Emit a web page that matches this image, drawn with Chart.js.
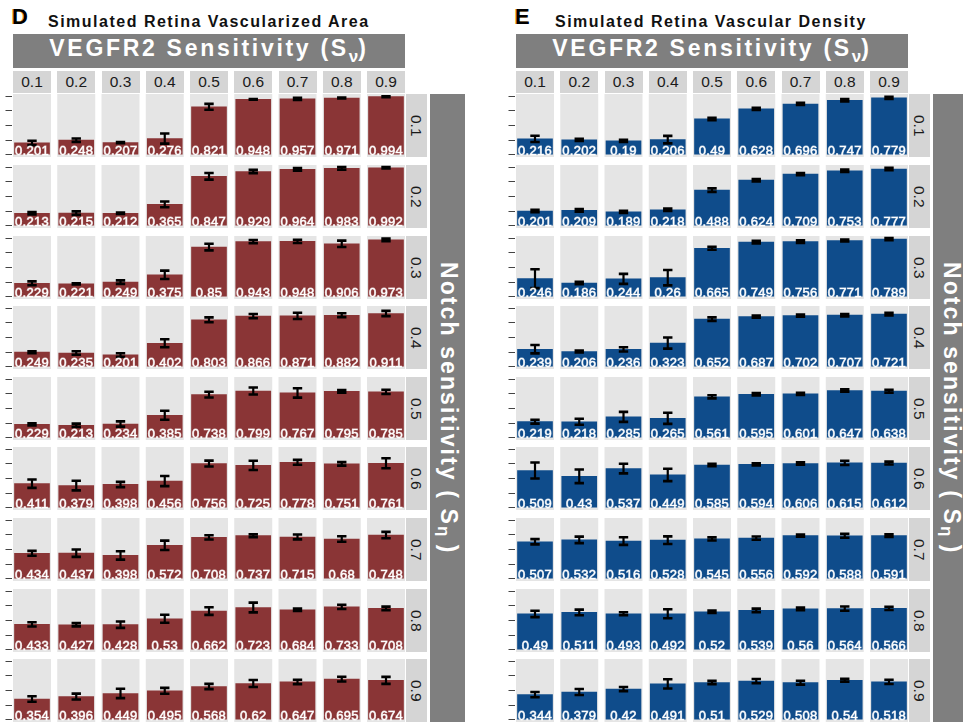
<!DOCTYPE html>
<html>
<head>
<meta charset="utf-8">
<title>Simulated retina vascularization</title>
<script src="https://cdn.jsdelivr.net/npm/chart.js@4.4.1/dist/chart.umd.min.js"></script>
<style>
  html, body { margin: 0; padding: 0; background: #fff; }
  #page { position: relative; width: 963px; height: 725px; overflow: hidden;
          font-family: "Liberation Sans", Arial, Helvetica, sans-serif; }
  .abs { position: absolute; }
  .tag { font-weight: bold; font-size: 22px; line-height: 22px; color: #000;
         text-shadow: -1px 0 0 #e89a2c; }
  .title { font-weight: bold; font-size: 16px; line-height: 16px; color: #111;
           white-space: nowrap; letter-spacing: 1.5px; }
  .bigstrip { background: #7f7f7f; color: #fff; font-weight: bold; font-size: 23px;
              letter-spacing: 2.7px; white-space: nowrap; display: flex;
              align-items: center; justify-content: center; }
  .bigstrip sub { font-size: 17px; vertical-align: -6px; letter-spacing: 0; }
  .strip { background: #d5d5d5; color: #1a1a1a; font-size: 15.5px; white-space: nowrap;
           display: flex; align-items: center; justify-content: center; }
  .vert { writing-mode: vertical-rl; }
  .cell canvas { display: block; }
</style>
</head>
<body>
<div id="page"></div>
<script>
// Factor levels
const vegfrLevels = ['0.1', '0.2', '0.3', '0.4', '0.5', '0.6', '0.7', '0.8', '0.9'];
const notchLevels = ['0.1', '0.2', '0.3', '0.4', '0.5', '0.6', '0.7', '0.8', '0.9'];

// Vascularized area: mean per (notch row, VEGFR2 column)
const areaMean = [
  [0.201, 0.248, 0.207, 0.276, 0.821, 0.948, 0.957, 0.971, 0.994],
  [0.213, 0.215, 0.212, 0.365, 0.847, 0.929, 0.964, 0.983, 0.992],
  [0.229, 0.221, 0.249, 0.375, 0.85,  0.943, 0.948, 0.906, 0.973],
  [0.249, 0.235, 0.201, 0.402, 0.803, 0.866, 0.871, 0.882, 0.911],
  [0.229, 0.213, 0.234, 0.385, 0.738, 0.799, 0.767, 0.795, 0.785],
  [0.411, 0.379, 0.398, 0.456, 0.756, 0.725, 0.778, 0.751, 0.761],
  [0.434, 0.437, 0.398, 0.572, 0.708, 0.737, 0.715, 0.68,  0.748],
  [0.433, 0.427, 0.428, 0.53,  0.662, 0.723, 0.684, 0.733, 0.708],
  [0.354, 0.396, 0.449, 0.495, 0.568, 0.62,  0.647, 0.695, 0.674]
];
// Vascularized area: standard deviation
const areaSD = [
  [0.037, 0.028, 0.010, 0.086, 0.050, 0.007, 0.019, 0.007, 0.007],
  [0.019, 0.030, 0.013, 0.050, 0.057, 0.028, 0.022, 0.024, 0.013],
  [0.033, 0.010, 0.030, 0.072, 0.057, 0.028, 0.028, 0.054, 0.022],
  [0.016, 0.030, 0.030, 0.068, 0.042, 0.037, 0.054, 0.033, 0.045],
  [0.019, 0.028, 0.045, 0.077, 0.050, 0.060, 0.080, 0.022, 0.037],
  [0.072, 0.083, 0.045, 0.086, 0.050, 0.080, 0.042, 0.030, 0.086],
  [0.042, 0.063, 0.072, 0.080, 0.037, 0.024, 0.042, 0.048, 0.054],
  [0.037, 0.028, 0.054, 0.068, 0.065, 0.083, 0.022, 0.037, 0.030],
  [0.048, 0.050, 0.080, 0.050, 0.045, 0.060, 0.037, 0.040, 0.060]
];
// Vascular density: mean
const densityMean = [
  [0.216, 0.202, 0.19,  0.206, 0.49,  0.628, 0.696, 0.747, 0.779],
  [0.201, 0.209, 0.189, 0.218, 0.488, 0.624, 0.709, 0.753, 0.777],
  [0.246, 0.186, 0.244, 0.26,  0.665, 0.749, 0.756, 0.771, 0.789],
  [0.239, 0.206, 0.236, 0.323, 0.652, 0.687, 0.702, 0.707, 0.721],
  [0.219, 0.218, 0.285, 0.265, 0.561, 0.595, 0.601, 0.647, 0.638],
  [0.509, 0.43,  0.537, 0.449, 0.585, 0.594, 0.606, 0.615, 0.612],
  [0.507, 0.532, 0.516, 0.528, 0.545, 0.556, 0.592, 0.588, 0.591],
  [0.49,  0.511, 0.493, 0.492, 0.52,  0.539, 0.56,  0.564, 0.566],
  [0.344, 0.379, 0.42,  0.491, 0.51,  0.529, 0.508, 0.54,  0.518]
];
// Vascular density: standard deviation
const densitySD = [
  [0.043, 0.015, 0.015, 0.052, 0.017, 0.015, 0.015, 0.017, 0.015],
  [0.017, 0.017, 0.015, 0.015, 0.024, 0.017, 0.015, 0.017, 0.017],
  [0.130, 0.017, 0.069, 0.106, 0.020, 0.017, 0.017, 0.013, 0.015],
  [0.057, 0.013, 0.029, 0.076, 0.024, 0.015, 0.015, 0.017, 0.017],
  [0.027, 0.041, 0.069, 0.076, 0.022, 0.017, 0.015, 0.017, 0.020],
  [0.110, 0.094, 0.066, 0.085, 0.017, 0.015, 0.015, 0.029, 0.020],
  [0.036, 0.045, 0.052, 0.052, 0.022, 0.022, 0.015, 0.027, 0.017],
  [0.043, 0.038, 0.020, 0.062, 0.017, 0.024, 0.017, 0.029, 0.022],
  [0.036, 0.041, 0.029, 0.064, 0.022, 0.029, 0.027, 0.020, 0.029]
];
// y-axis tick values for each panel
const areaTicks = [0, 0.25, 0.5, 0.75, 1];
const densityTicks = [0, 0.2, 0.4, 0.6, 0.8];

// Panel descriptions (layout and styling)
const panels = [
  { tag: 'D', title: 'Simulated Retina Vascularized Area', tagX: 12, titleX: 48, gridX: 13,
    mean: areaMean, sd: areaSD, ticks: areaTicks, yMin: -0.04, yMax: 1.04, color: '#8a3536' },
  { tag: 'E', title: 'Simulated Retina Vascular Density', tagX: 515, titleX: 555, gridX: 516,
    mean: densityMean, sd: densitySD, ticks: densityTicks, yMin: -0.033, yMax: 0.833, color: '#0f4c8b' }
];

// Facet geometry
const CELL_W = 38, PITCH_X = 44.25, CELL_H = 63;
const ROW_TOP0 = 94.2, PITCH_Y = 70.65;
const AXIS_W = 12, BAR_W = 35;
const COLSTRIP_TOP = 70.5, COLSTRIP_H = 22.5;
const HEAD_TOP = 34, HEAD_H = 34;

const page = document.getElementById('page');
function el(cls, css, html) {
  const d = document.createElement('div');
  d.className = 'abs ' + cls;
  Object.assign(d.style, css);
  if (html !== undefined) d.innerHTML = html;
  page.appendChild(d);
  return d;
}
const px = v => v + 'px';

// Cell background, error bars and value labels drawn on the chart canvas
const facetPlugin = {
  id: 'facet',
  beforeDatasetsDraw(chart, args, opts) {
    const { ctx, chartArea, scales } = chart;
    ctx.save();
    ctx.fillStyle = '#e5e5e5';
    opts.means.forEach((m, i) => {
      const cx = scales.x.getPixelForValue(i);
      ctx.fillRect(cx - CELL_W / 2, chartArea.top, CELL_W, chartArea.bottom - chartArea.top);
    });
    ctx.restore();
  },
  afterDatasetsDraw(chart, args, opts) {
    const { ctx, scales } = chart;
    const y = scales.y;
    ctx.save();
    ctx.strokeStyle = '#000';
    ctx.lineCap = 'butt';
    opts.means.forEach((m, i) => {
      const cx = scales.x.getPixelForValue(i);
      const s = opts.sds[i];
      const yHi = y.getPixelForValue(m + s), yLo = y.getPixelForValue(m - s);
      ctx.lineWidth = 2.2;
      ctx.beginPath(); ctx.moveTo(cx, yHi); ctx.lineTo(cx, yLo); ctx.stroke();
      ctx.lineWidth = 2.6;
      ctx.beginPath();
      ctx.moveTo(cx - 4.7, yHi); ctx.lineTo(cx + 4.7, yHi);
      ctx.moveTo(cx - 4.7, yLo); ctx.lineTo(cx + 4.7, yLo);
      ctx.stroke();
    });
    ctx.font = '13px "Liberation Sans", Arial, sans-serif';
    ctx.textAlign = 'center';
    ctx.textBaseline = 'alphabetic';
    if ('letterSpacing' in ctx) ctx.letterSpacing = '0.3px';
    ctx.fillStyle = '#fff';
    ctx.strokeStyle = 'rgba(255,255,255,0.7)';
    ctx.lineWidth = 0.8;
    const base = y.getPixelForValue(0) + 0.5;
    opts.means.forEach((m, i) => {
      const cx = scales.x.getPixelForValue(i);
      const label = String(m);
      ctx.fillText(label, cx, base);
      ctx.strokeText(label, cx, base);
    });
    ctx.restore();
  }
};

panels.forEach(p => {
  el('tag', { left: px(p.tagX), top: px(6) }, p.tag);
  el('title', { left: px(p.titleX), top: px(13.5) }, p.title);

  const gridW = PITCH_X * (vegfrLevels.length - 1) + CELL_W;
  el('bigstrip', { left: px(p.gridX), top: px(HEAD_TOP), width: px(gridW), height: px(HEAD_H),
                   alignItems: 'flex-start' },
     '<span style="line-height:28px">VEGFR2 Sensitivity (S<sub>ν</sub>)</span>');

  vegfrLevels.forEach((lv, c) => {
    el('strip', { left: px(p.gridX + c * PITCH_X), top: px(COLSTRIP_TOP), width: px(CELL_W),
                  height: px(COLSTRIP_H), paddingTop: '1px', boxSizing: 'border-box' }, lv);
  });

  const stripX = p.gridX + gridW + 0.5;
  const rowTop = r => Math.round(ROW_TOP0 + r * PITCH_Y);
  notchLevels.forEach((lv, r) => {
    el('strip', { left: px(stripX), top: px(rowTop(r)), width: px(21.5), height: px(CELL_H) },
       '<span class="vert">' + lv + '</span>');
  });

  const lastBottom = rowTop(notchLevels.length - 1) + CELL_H;
  el('bigstrip', { left: px(stripX + 24.5), top: px(rowTop(0)), width: px(35),
                   height: px(lastBottom - rowTop(0)), letterSpacing: '2.1px' },
     '<span class="vert">Notch sensitivity ( S<sub>η</sub> )</span>');

  // one bar chart per facet row
  const areaW = gridW + 2;
  const xMin = -(1 + CELL_W / 2) / PITCH_X;
  const xMax = xMin + areaW / PITCH_X;
  notchLevels.forEach((lv, r) => {
    const holder = el('cell', { left: px(p.gridX - 1 - AXIS_W), top: px(rowTop(r)),
                                width: px(AXIS_W + areaW), height: px(CELL_H) });
    const canvas = document.createElement('canvas');
    canvas.width = Math.round(AXIS_W + areaW);
    canvas.height = CELL_H;
    holder.appendChild(canvas);
    new Chart(canvas, {
      type: 'bar',
      data: {
        datasets: [{
          data: p.mean[r].map((v, i) => ({ x: i, y: v })),
          backgroundColor: p.color,
          borderWidth: 0,
          barThickness: BAR_W
        }]
      },
      options: {
        responsive: false,
        animation: false,
        devicePixelRatio: 1,
        layout: { padding: 0 },
        plugins: {
          legend: { display: false },
          tooltip: { enabled: false },
          facet: { means: p.mean[r], sds: p.sd[r] }
        },
        scales: {
          x: { type: 'linear', display: false, offset: false, bounds: 'ticks',
               min: xMin, max: xMax, grid: { offset: false } },
          y: {
            min: p.yMin, max: p.yMax,
            afterBuildTicks: ax => { ax.ticks = p.ticks.map(v => ({ value: v })); },
            afterFit: ax => { ax.width = AXIS_W; },
            ticks: { display: false },
            border: { display: false },
            grid: { drawOnChartArea: false, drawTicks: true, tickLength: 6.5,
                    color: '#444', lineWidth: 1 }
          }
        }
      },
      plugins: [facetPlugin]
    });
  });
});
</script>
</body>
</html>
